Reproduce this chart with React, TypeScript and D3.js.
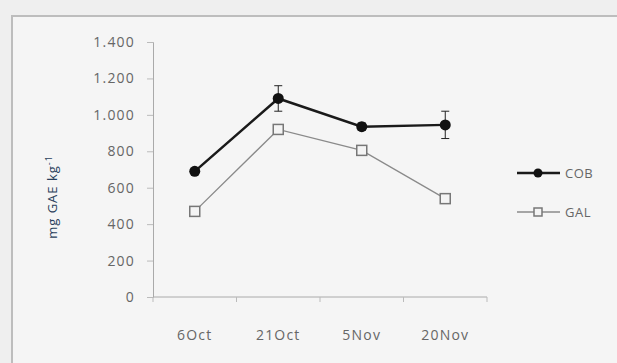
import React, { useEffect, useRef } from "react";
import * as d3 from "d3";

const dates = ["6Oct", "21Oct", "5Nov", "20Nov"];
const cobValues = [690, 1090, 935, 945];
const cobErrors = [15, 70, 20, 75];
const galValues = [470, 920, 805, 540];
const galErrors = [25, 20, 15, 20];
const yTicks = [0, 200, 400, 600, 800, 1000, 1200, 1400];

const W = 617;
const H = 363;
const margin = { left: 153, right: 130, top: 42, bottom: 66 };
const FONT = "'Open Sans', sans-serif";

const fmt = (v: number) => d3.format(",")(v).replace(/,/g, ".");

const App = () => {
  const ref = useRef<SVGGElement>(null);

  useEffect(() => {
    const g = d3.select(ref.current);
    g.selectAll("*").remove();

    const x = d3
      .scaleBand()
      .domain(dates)
      .range([margin.left, W - margin.right]);
    const y = d3
      .scaleLinear()
      .domain([0, 1400])
      .range([H - margin.bottom, margin.top]);
    const cx = (d: string) => (x(d) as number) + x.bandwidth() / 2;

    // y axis
    const yAxis = g
      .append("g")
      .attr("transform", `translate(${margin.left},0)`)
      .call(d3.axisLeft(y).tickValues(yTicks).tickFormat(d => fmt(+d)).tickSize(6).tickPadding(12));
    yAxis.select(".domain").attr("stroke", "#aaa");
    yAxis.selectAll(".tick line").attr("stroke", "#bbb");
    yAxis
      .selectAll("text")
      .attr("fill", "#666")
      .style("font-family", FONT)
      .style("font-size", "14px")
      .style("letter-spacing", "1.2px");

    // x axis with ticks between categories
    const x0 = y(0);
    g.append("line")
      .attr("x1", margin.left)
      .attr("x2", W - margin.right)
      .attr("y1", x0)
      .attr("y2", x0)
      .attr("stroke", "#aaa");
    const bounds = dates.map(d => x(d) as number).concat([W - margin.right]);
    g.selectAll(".xtick")
      .data(bounds)
      .enter()
      .append("line")
      .attr("x1", d => d)
      .attr("x2", d => d)
      .attr("y1", x0)
      .attr("y2", x0 + 5)
      .attr("stroke", "#bbb");
    g.selectAll(".xlab")
      .data(dates)
      .enter()
      .append("text")
      .attr("x", d => cx(d))
      .attr("y", x0 + 43)
      .attr("text-anchor", "middle")
      .attr("fill", "#666")
      .style("font-family", FONT)
      .style("font-size", "14px")
      .style("letter-spacing", "1.2px")
      .text(d => d);

    // y title
    const title = g
      .append("text")
      .attr("transform", `translate(57,197) rotate(-90)`)
      .attr("text-anchor", "middle")
      .attr("fill", "#2a3f5c")
      .style("font-family", FONT)
      .style("font-size", "13px")
      .style("letter-spacing", "1px");
    title.append("tspan").text("mg GAE kg");
    title.append("tspan").attr("dy", -5).style("font-size", "9px").text("-1");

    const line = d3
      .line<number>()
      .x((_, i) => cx(dates[i]))
      .y(d => y(d));

    const drawErr = (vals: number[], errs: number[], color: string) => {
      vals.forEach((v, i) => {
        const px = cx(dates[i]);
        g.append("line")
          .attr("x1", px).attr("x2", px)
          .attr("y1", y(v - errs[i])).attr("y2", y(v + errs[i]))
          .attr("stroke", color).attr("stroke-width", 1);
        [v - errs[i], v + errs[i]].forEach(e =>
          g.append("line")
            .attr("x1", px - 4).attr("x2", px + 4)
            .attr("y1", y(e)).attr("y2", y(e))
            .attr("stroke", color).attr("stroke-width", 1)
        );
      });
    };

    // GAL
    drawErr(galValues, galErrors, "#666");
    g.append("path")
      .datum(galValues)
      .attr("d", line)
      .attr("fill", "none")
      .attr("stroke", "#8a8a8a")
      .attr("stroke-width", 1.3);
    g.selectAll(".gal")
      .data(galValues)
      .enter()
      .append("rect")
      .attr("x", (_, i) => cx(dates[i]) - 5)
      .attr("y", d => y(d) - 5)
      .attr("width", 10)
      .attr("height", 10)
      .attr("fill", "#f4f4f4")
      .attr("stroke", "#777")
      .attr("stroke-width", 1.5);

    // COB
    drawErr(cobValues, cobErrors, "#222");
    g.append("path")
      .datum(cobValues)
      .attr("d", line)
      .attr("fill", "none")
      .attr("stroke", "#1a1a1a")
      .attr("stroke-width", 2.5);
    g.selectAll(".cob")
      .data(cobValues)
      .enter()
      .append("circle")
      .attr("cx", (_, i) => cx(dates[i]))
      .attr("cy", d => y(d))
      .attr("r", 5.5)
      .attr("fill", "#111");

    // legend
    const lg = g.append("g").attr("transform", "translate(517,0)");
    const items = [
      { name: "COB", y: 173 },
      { name: "GAL", y: 212 },
    ];
    items.forEach((it, i) => {
      lg.append("line")
        .attr("x1", 0).attr("x2", 43)
        .attr("y1", it.y).attr("y2", it.y)
        .attr("stroke", i === 0 ? "#1a1a1a" : "#8a8a8a")
        .attr("stroke-width", i === 0 ? 2.5 : 1.3);
      if (i === 0) {
        lg.append("circle").attr("cx", 21).attr("cy", it.y).attr("r", 4.5).attr("fill", "#111");
      } else {
        lg.append("rect")
          .attr("x", 17).attr("y", it.y - 4).attr("width", 8).attr("height", 8)
          .attr("fill", "#f4f4f4").attr("stroke", "#777").attr("stroke-width", 1.5);
      }
      lg.append("text")
        .attr("x", 48)
        .attr("y", it.y + 5)
        .attr("fill", "#666")
        .style("font-family", FONT)
        .style("font-size", "13px")
        .style("letter-spacing", "0.5px")
        .text(it.name);
    });
  }, []);

  return (
    <svg
      width={W}
      height={H}
      style={{ position: "absolute", left: 0, top: 0, display: "block" }}
    >
      <rect x={0} y={0} width={W} height={H} fill="#efefef" />
      <rect x={12} y={16} width={W} height={H} fill="#f5f5f5" stroke="#bdbdbd" strokeWidth={2} />
      <g ref={ref} />
    </svg>
  );
};

export default App;
